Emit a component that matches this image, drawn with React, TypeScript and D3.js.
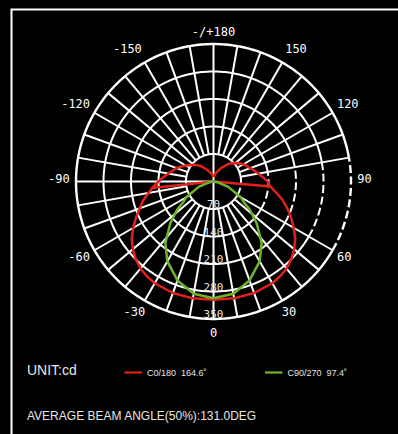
import React from "react";
import * as d3 from "d3";

const W = 398;
const H = 434;

// ---- data ----
const angleTicks = [0, 30, 60, 90, 120, 150, 180, -150, -120, -90, -60, -30];
const angleTickLabels = ["0", "30", "60", "90", "120", "150", "-/+180", "-150", "-120", "-90", "-60", "-30"];
const ringValues = [70, 140, 210, 280, 350];
const ringLabels = ["70", "140", "210", "280", "350"];

// C0/180 (red): angle (deg, 0 = down, + = right), intensity (cd)
const c0Angles = [
  -180, -170, -160, -150, -140, -130, -120, -110, -100, -95, -90, -84, -84, -84,
  -80, -75, -70, -65, -60, -55, -50, -45, -40, -35, -30, -20, -10, 0,
  10, 20, 30, 35, 40, 45, 50, 55, 60, 65, 70, 75, 80, 85, 85, 85,
  90, 95, 100, 110, 120, 127, 135, 140, 150, 160, 170, 180,
];
const c0Values = [
  12, 18, 24, 36, 52, 66, 82, 100, 116, 128, 140, 157, 0, 157,
  168, 185, 200, 218, 236, 254, 268, 280, 289, 295, 299, 302, 302, 301,
  302, 302, 299, 295, 289, 280, 268, 254, 236, 218, 200, 182, 162, 145, 0, 145,
  138, 126, 116, 100, 88, 78, 66, 58, 40, 26, 16, 12,
];

// C90/270 (green)
const c90Angles = [
  -180, -90, -80, -70, -60, -56, -52, -46, -38, -30, -20, -10, 0,
  10, 20, 30, 38, 46, 52, 56, 60, 70, 80, 90, 180,
];
const c90Values = [
  0, 0, 10, 40, 80, 92, 118, 153, 199, 235, 268, 290, 297,
  290, 268, 235, 199, 153, 118, 92, 80, 40, 10, 0, 0,
];

const unitText = "UNIT:cd";
const legendNames = ["C0/180  164.6˚", "C90/270  97.4˚"];
const legendColors = ["#e3201b", "#6fb52c"];
const footerText = "AVERAGE BEAM ANGLE(50%):131.0DEG";

// ---- layout ----
const cx = 213.5;
const cy = 181.5;
const R = 137.5;

const rScale = d3.scaleLinear().domain([0, 350]).range([0, R]);
const toRad = (deg: number) => (deg * Math.PI) / 180;
// angle 0 points down, positive to the right
const pt = (deg: number, r: number): [number, number] => [
  cx + r * Math.sin(toRad(deg)),
  cy + r * Math.cos(toRad(deg)),
];

function curvePath(angles: number[], values: number[]) {
  const line = d3
    .line<[number, number]>()
    .x((d) => pt(d[0], rScale(d[1]))[0])
    .y((d) => pt(d[0], rScale(d[1]))[1])
    .curve(d3.curveLinear);
  return line(angles.map((a, i) => [a, values[i]])) || "";
}

function arcPath(r: number, a0: number, a1: number) {
  const n = Math.max(2, Math.ceil(Math.abs(a1 - a0)));
  const pts = d3.range(n + 1).map((i) => pt(a0 + ((a1 - a0) * i) / n, r));
  return d3.line()(pts as [number, number][]) || "";
}

export default function App() {
  const spokeAngles = d3.range(-170, 181, 10);
  const dashedFrom = 60;
  const dashedTo = 100;
  const missing = new Set([70, 80, 90]);

  return (
    <svg
      width={W}
      height={H}
      style={{ position: "absolute", left: 0, top: 0, background: "#000", display: "block" }}
    >
      <rect x={0} y={0} width={W} height={H} fill="#000" />
      <rect x={11.5} y={9.5} width={420} height={460} fill="none" stroke="#fff" strokeWidth={2} />

      {/* rings */}
      {ringValues.map((v, i) => {
        const r = rScale(v);
        const sw = i === ringValues.length - 1 ? 2.4 : 2;
        return (
          <g key={"ring" + v}>
            <path d={arcPath(r, dashedTo, 360 + dashedFrom)} fill="none" stroke="#fff" strokeWidth={sw} />
            <path
              d={arcPath(r, dashedFrom, dashedTo)}
              fill="none"
              stroke="#fff"
              strokeWidth={sw}
              strokeDasharray="8,3.5"
            />
          </g>
        );
      })}

      {/* spokes */}
      {spokeAngles.map((a) => {
        if (missing.has(a)) return null;
        const r0 = a === 0 || a === 180 || a === -90 ? 0 : rScale(70);
        const [x1, y1] = pt(a, r0);
        const [x2, y2] = pt(a, R);
        return <line key={"sp" + a} x1={x1} y1={y1} x2={x2} y2={y2} stroke="#fff" strokeWidth={2} />;
      })}

      {/* ring value labels */}
      {ringValues.map((v, i) => {
        const [x, y] = pt(0, rScale(v));
        return (
          <text
            key={"rl" + v}
            x={x}
            y={y - 1}
            textAnchor="middle"
            fontFamily="DejaVu Sans Mono"
            fontSize={11}
            fill="#e8e8e8"
          >
            {ringLabels[i]}
          </text>
        );
      })}

      {/* curves */}
      <path d={curvePath(c0Angles, c0Values)} fill="none" stroke={legendColors[0]} strokeWidth={2.5} strokeLinejoin="round" />
      <path d={curvePath(c90Angles, c90Values)} fill="none" stroke={legendColors[1]} strokeWidth={2.5} strokeLinejoin="round" />

      {/* angle labels */}
      {angleTicks.map((a, i) => {
        const label = angleTickLabels[i];
        const neg = label.startsWith("-") && label !== "-/+180";
        let [x, y] = pt(a, 151);
        if (neg) x -= 3.6;
        const abs = Math.abs(a);
        if (abs > 90 && abs < 180) {
          x += Math.sign(a) * 7 * (abs - 90) / 60;
          y -= 2;
        }
        if (abs === 90) y -= 3;
        if (abs === 180) y += 1.5;
        return (
          <text
            key={"al" + a}
            x={x}
            y={y}
            dy="0.35em"
            textAnchor="middle"
            fontFamily="DejaVu Sans Mono"
            fontSize={12}
            fill="#fff"
          >
            {label}
          </text>
        );
      })}

      {/* legend */}
      <text x={27} y={375} fontFamily="Liberation Sans, Arial" fontSize={14} fill="#e6e6e6">
        {unitText}
      </text>
      {legendNames.map((name, i) => {
        const x0 = i === 0 ? 124.5 : 265;
        return (
          <g key={"lg" + i}>
            <line x1={x0} y1={372.5} x2={x0 + 17.5} y2={372.5} stroke={legendColors[i]} strokeWidth={2.2} />
            <text
              x={x0 + 22.5}
              y={375.5}
              fontFamily="Liberation Sans, Arial"
              fontSize={9}
              fill="#e6e6e6"
              style={{ whiteSpace: "pre" }}
            >
              {name}
            </text>
          </g>
        );
      })}
      <text x={27} y={420} fontFamily="Liberation Sans, Arial" fontSize={12} fill="#e6e6e6">
        {footerText}
      </text>
    </svg>
  );
}
